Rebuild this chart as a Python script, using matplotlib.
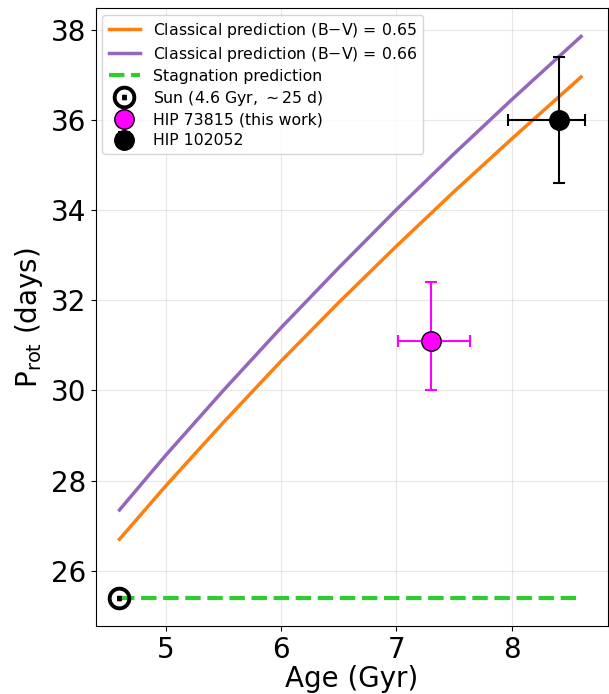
import matplotlib
matplotlib.use("Agg")
import matplotlib.pyplot as plt

plt.rcParams["font.family"] = "DejaVu Sans"

# Classical gyrochronology predictions
ages = [4.6, 5.0, 5.5, 6.0, 6.5, 7.0, 7.5, 8.0, 8.6]
prot_065 = [26.70, 27.88, 29.29, 30.65, 31.95, 33.20, 34.41, 35.58, 36.95]
prot_066 = [27.35, 28.56, 30.00, 31.39, 32.72, 34.01, 35.25, 36.45, 37.85]

# Stagnation prediction
stag_ages = [4.6, 8.6]
stag_prot = [25.4, 25.4]

# Sun
sun_age, sun_prot = 4.6, 25.4

# HIP 73815
hip1_age, hip1_prot = 7.3, 31.1
hip1_xerr = [[0.29], [0.34]]
hip1_yerr = [[1.1], [1.3]]

# HIP 102052
hip2_age, hip2_prot = 8.41, 36.0
hip2_xerr = [[0.44], [0.22]]
hip2_yerr = [[1.4], [1.4]]

fig, ax = plt.subplots(figsize=(6.09, 6.94), dpi=100)
fig.subplots_adjust(left=0.158, right=0.998, top=0.988, bottom=0.098)

ax.plot(ages, prot_065, color="#ff7f0e", lw=2.5, label="Classical prediction (B$-$V) = 0.65")
ax.plot(ages, prot_066, color="#9467bd", lw=2.5, label="Classical prediction (B$-$V) = 0.66")
ax.plot(stag_ages, stag_prot, color="#2ecc2e", lw=3, ls="--", label="Stagnation prediction")

ax.plot(sun_age, sun_prot, ls="none", marker="$\\odot$", color="black", markersize=16,
        label="Sun (4.6 Gyr, $\\sim$25 d)")

ax.errorbar(hip1_age, hip1_prot, xerr=hip1_xerr, yerr=hip1_yerr, fmt="o",
            color="magenta", mfc="magenta", mec="black", ms=14, capsize=4,
            elinewidth=1.5, capthick=1.5, label="HIP 73815 (this work)", zorder=5)
ax.errorbar(hip2_age, hip2_prot, xerr=hip2_xerr, yerr=hip2_yerr, fmt="o",
            color="black", ms=14, capsize=4,
            elinewidth=1.5, capthick=1.5, label="HIP 102052", zorder=5)

ax.set_xlabel("Age (Gyr)", fontsize=20, labelpad=1)
ax.set_ylabel("P$_{\\rm rot}$ (days)", fontsize=20)
ax.tick_params(axis="both", labelsize=20)
ax.set_xticks([5, 6, 7, 8])
ax.set_yticks([26, 28, 30, 32, 34, 36, 38])
ax.grid(True, alpha=0.3)

handles, labels = ax.get_legend_handles_labels()
ax.legend(handles, labels, loc="upper left", fontsize=11.3, labelspacing=0.32,
          borderaxespad=0.4)

fig.savefig("out.png", dpi=100)
